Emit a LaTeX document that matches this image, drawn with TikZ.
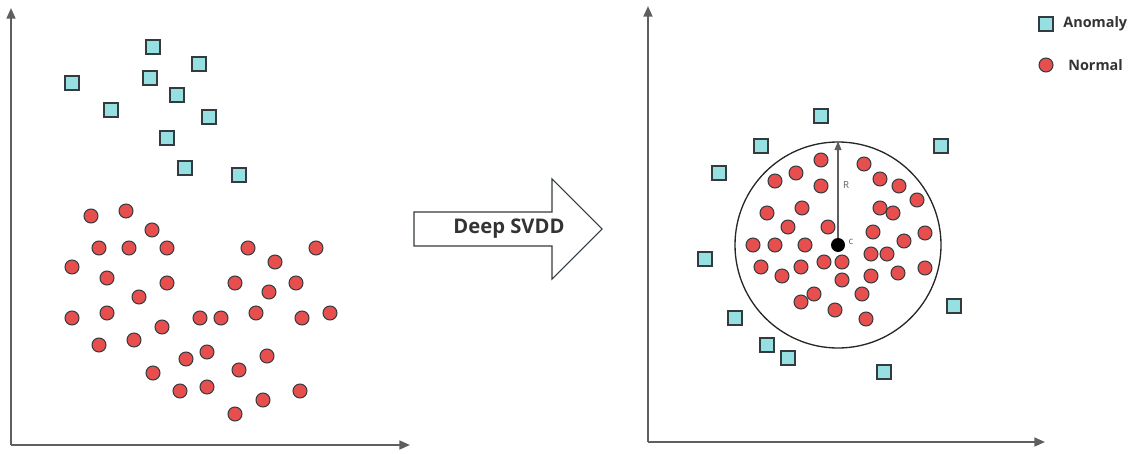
\documentclass[tikz,border=0pt]{standalone}
\usepackage{fontspec}
\setmainfont{Open Sans}
\usetikzlibrary{arrows.meta}
\definecolor{anom}{HTML}{96E0E2}
\definecolor{norm}{HTML}{E64F4D}
\definecolor{edgec}{HTML}{333B40}
\definecolor{axisc}{HTML}{5F5F5F}
\definecolor{txtc}{HTML}{333333}
\tikzset{
  anomaly/.style={draw=edgec, fill=anom, line width=0.85pt, rectangle, minimum size=0.28cm, inner sep=0pt},
  normal/.style={draw=edgec, fill=norm, line width=0.6pt, circle, minimum size=0.28cm, inner sep=0pt},
  axisline/.style={draw=axisc, line width=1.1pt, -{Triangle[length=6pt,width=5pt]}},
  lbl/.style={font=\bfseries\fontsize{8.2}{10}\selectfont, text=txtc, anchor=west, inner sep=0pt},
}
\begin{document}
\begin{tikzpicture}[x=0.02cm, y=-0.02cm]
\useasboundingbox (0,0) rectangle (1139,453);
% left axes
\coordinate (lo) at (11,445);
\coordinate (ly) at (11,8);
\coordinate (lx) at (410,445);
\draw[axisline] (lo) -- (ly);
\draw[axisline] (lo) -- (lx);
% right axes
\coordinate (ro) at (648,442);
\coordinate (ry) at (648,6);
\coordinate (rx) at (1045,442);
\draw[axisline] (ro) -- (ry);
\draw[axisline] (ro) -- (rx);
% left anomalies
\foreach \x/\y [count=\i] in {153/47,199/64,72/83,150/78,177/95,111/110,209/117,167/138,185/168,239/175}
  \node[anomaly] (la\i) at (\x,\y) {};
% left normals
\foreach \x/\y [count=\i] in {91/216,126/211,152/230,99/248,129/248,167/248,248/248,316/248,275/262,72/267,107/278,167/283,235/283,296/283,269/292,139/297,72/318,107/313,162/327,200/318,221/318,256/313,302/318,330/313,99/345,134/340,186/359,207/352,267/356,153/373,239/370,180/391,207/387,300/391,263/400,235/414}
  \node[normal] (ln\i) at (\x,\y) {};
% Deep SVDD arrow
\coordinate (svddc) at (509,229);
\draw[draw=edgec, line width=0.6pt, fill=white]
  (414,212) -- (552,212) -- (552,179) -- (602,229) -- (552,279) -- (552,246) -- (414,246) -- cycle;
\node[font=\bfseries\fontsize{11.5}{13}\selectfont, text=txtc, inner sep=0pt] (svdd) at (svddc) {Deep SVDD};
% hypersphere
\node[draw=black!85, line width=0.75pt, circle, minimum size=206*0.02cm, inner sep=0pt] (sphere) at (838,245) {};
\coordinate (top) at (sphere.north);
% right normals
\foreach \x/\y [count=\i] in {821/160,864/164,796/173,775/181,880/179,821/186,899/186,917/200,767/213,802/208,880/208,893/213,788/227,828/227,873/232,925/233,904/241,753/245,775/245,805/245,871/254,887/254,761/267,782/276,801/267,824/262,842/262,842/280,871/276,898/273,925/268,814/294,801/302,862/294,835/310,866/319}
  \node[normal] (rn\i) at (\x,\y) {};
% right anomalies
\foreach \x/\y [count=\i] in {821/116,761/146,941/146,719/173,705/259,954/306,735/318,767/345,788/358,884/372}
  \node[anomaly] (ra\i) at (\x,\y) {};
% center and radius
\node[circle, fill=black, minimum size=0.28cm, inner sep=0pt] (c) at (838,245) {};
\draw[draw=axisc, line width=0.6pt, -{Triangle[length=5pt,width=4pt]}] (c) -- (top);
\node[font=\fontsize{5.5}{6}\selectfont, text=axisc, inner sep=0pt] (rl) at (846,185) {R};
\node[font=\fontsize{5.5}{6}\selectfont, text=axisc, inner sep=0pt] (cl) at (851,242) {c};
% legend
\node[anomaly] (leganom) at (1046,24) {};
\node[lbl] (legat) at (1063,24) {Anomaly};
\node[normal] (legnorm) at (1046,65) {};
\node[lbl] (legnt) at (1068,65) {Normal};
\end{tikzpicture}
\end{document}
